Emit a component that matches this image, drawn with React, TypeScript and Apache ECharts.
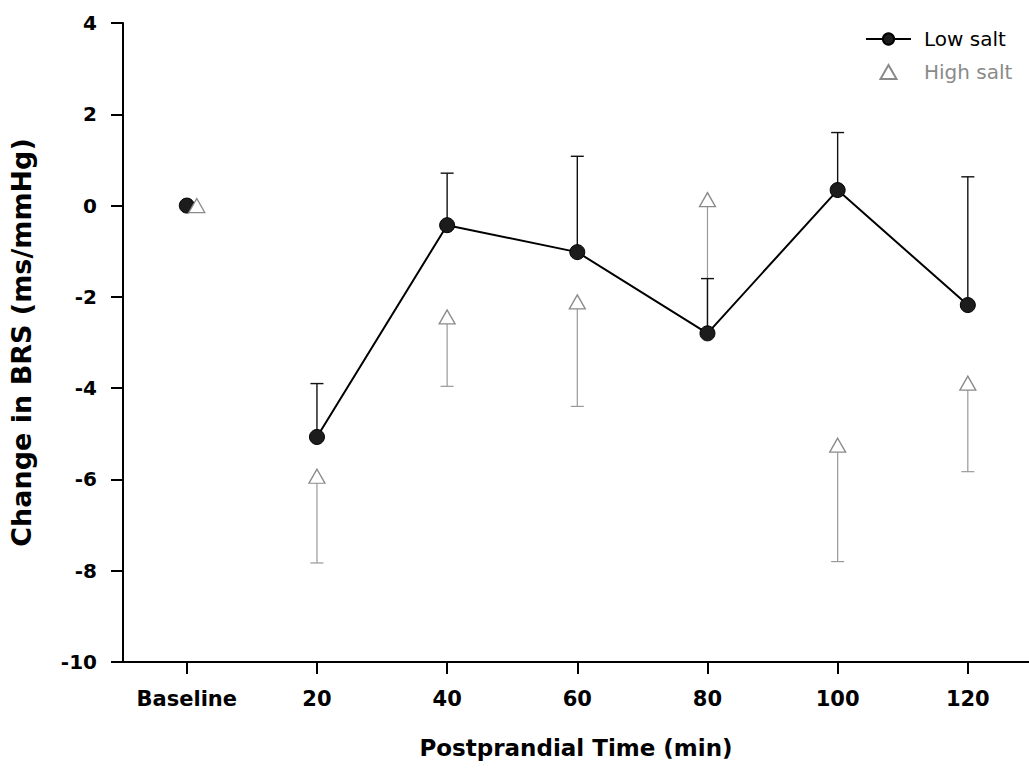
import React, { useEffect, useRef } from "react";
import * as echarts from "echarts";

const categories = ["Baseline", "20", "40", "60", "80", "100", "120"];
const lowSalt = [0, -5.07, -0.43, -1.02, -2.8, 0.34, -2.18];
const lowSaltErr = [0, 1.17, 1.14, 2.1, 1.2, 1.26, 2.81];
const highSalt = [0, -5.93, -2.44, -2.11, 0.13, -5.25, -3.89];
const highSaltErr = [0, 1.9, 1.52, 2.29, 2.83, 2.55, 1.94];
const yMin = -10;
const yMax = 4;
const yStep = 2;

const FONT = "DejaVu Sans";
const GRAY = "#8a8a8a";

function errRenderer(color: string, lw: number) {
  return (params: any, api: any) => {
    const x = api.value(0);
    const y = api.value(1);
    const e = api.value(2);
    const p0 = api.coord([x, y]);
    const p1 = api.coord([x, y + e]);
    const hw = 6.5;
    return {
      type: "group",
      children: [
        {
          type: "line",
          shape: { x1: p0[0], y1: p0[1], x2: p1[0], y2: p1[1] },
          style: { stroke: color, lineWidth: lw },
        },
        {
          type: "line",
          shape: { x1: p1[0] - hw, y1: p1[1], x2: p1[0] + hw, y2: p1[1] },
          style: { stroke: color, lineWidth: lw },
        },
      ],
    };
  };
}

export default function App() {
  const ref = useRef<HTMLDivElement>(null);
  useEffect(() => {
    if (!ref.current) return;
    const chart = echarts.init(ref.current, null, { renderer: "svg" });
    const lowErrData = lowSalt
      .map((v, i) => [i, v, lowSaltErr[i]])
      .filter((d) => d[2] !== 0);
    const highErrData = highSalt
      .map((v, i) => [i, v, -highSaltErr[i]])
      .filter((d) => d[2] !== 0);
    const lowLine = lowSalt.map((v, i) => [i, v]).slice(1);
    const lowBase = [[0, lowSalt[0]]];
    const highData = highSalt.map((v, i) =>
      i === 0 ? { value: [i, v], symbolOffset: [10, 0] } : [i, v]
    );
    const xTickValues = categories.map((_, i) => i);
    chart.setOption({
      animation: false,
      backgroundColor: "#fff",
      legend: {
        orient: "vertical",
        left: 860,
        top: 24,
        itemWidth: 45,
        itemHeight: 14,
        itemGap: 13,
        symbolKeepAspect: true,
        textStyle: { fontFamily: FONT, fontSize: 20, padding: [0, 0, 0, 8] },
        data: [
          { name: "Low salt", textStyle: { color: "#000" } },
          {
            name: "High salt",
            icon: "path://M8,0 L16,14 L0,14 Z",
            textStyle: { color: GRAY },
          },
        ],
      },
      grid: { left: 123, right: 0, top: 23, bottom: 111, containLabel: false },
      xAxis: {
        type: "value",
        min: -0.49,
        max: 6.47,
        splitNumber: 7,
        splitLine: { show: false },
        axisLine: { show: true, onZero: false, lineStyle: { color: "#000", width: 2 } },
        axisTick: {
          show: true,
          length: 12,
          customValues: xTickValues,
          lineStyle: { color: "#000", width: 2 },
        },
        axisLabel: {
          margin: 26,
          color: "#000",
          fontFamily: FONT,
          fontWeight: "bold",
          fontSize: 21,
          customValues: xTickValues,
          formatter: (v: number) =>
            categories[Math.round(v)] !== undefined ? categories[Math.round(v)] : "",
        },
        name: "Postprandial Time (min)",
        nameLocation: "middle",
        nameGap: 74,
        nameTextStyle: { color: "#000", fontFamily: FONT, fontWeight: "bold", fontSize: 23 },
      },
      yAxis: {
        type: "value",
        min: yMin,
        max: yMax,
        interval: yStep,
        splitLine: { show: false },
        axisLine: { show: true, onZero: false, lineStyle: { color: "#000", width: 2 } },
        axisTick: { show: true, length: 12, lineStyle: { color: "#000", width: 2 } },
        axisLabel: {
          margin: 26,
          color: "#000",
          fontFamily: FONT,
          fontWeight: "bold",
          fontSize: 20,
        },
        name: "Change in BRS (ms/mmHg)",
        nameLocation: "middle",
        nameGap: 88,
        nameTextStyle: { color: "#000", fontFamily: FONT, fontWeight: "bold", fontSize: 27 },
      },
      series: [
        {
          type: "custom",
          name: "highErr",
          data: highErrData,
          renderItem: errRenderer("#999", 1.2),
          z: 1,
          silent: true,
        },
        {
          type: "custom",
          name: "lowErr",
          data: lowErrData,
          renderItem: errRenderer("#111", 1.4),
          z: 2,
          silent: true,
        },
        {
          type: "line",
          name: "Low salt",
          data: lowLine,
          symbol: "circle",
          symbolSize: 15,
          lineStyle: { color: "#000", width: 2 },
          itemStyle: { color: "#1c1c1c", borderColor: "#000", borderWidth: 1, opacity: 1 },
          z: 3,
        },
        {
          type: "scatter",
          name: "Low salt",
          data: lowBase,
          symbol: "circle",
          symbolSize: 15,
          itemStyle: { color: "#1c1c1c", borderColor: "#000", borderWidth: 1, opacity: 1 },
          z: 3,
        },
        {
          type: "scatter",
          name: "High salt",
          data: highData,
          symbol: "triangle",
          symbolSize: [16, 14],
          itemStyle: { color: "#fff", borderColor: GRAY, borderWidth: 1.3, opacity: 1 },
          z: 4,
        },
      ],
    });
    return () => chart.dispose();
  }, []);
  return (
    <div
      ref={ref}
      style={{ position: "fixed", left: 0, top: 0, width: 1029, height: 773 }}
    />
  );
}
